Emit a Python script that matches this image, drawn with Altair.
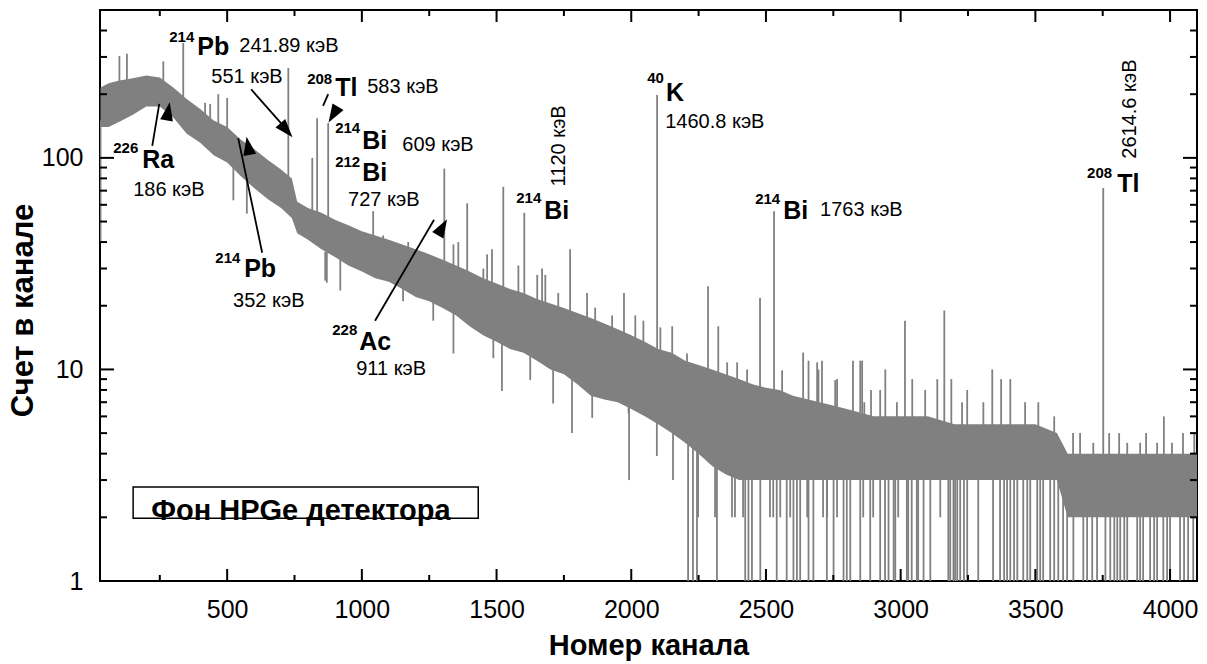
import altair as alt
import pandas as pd

# ---------------- data ----------------
# dense noisy background band (lower / upper edge of the trace)
band_ch = [30, 60, 100, 150, 200, 250, 300, 350, 400, 450,
           500, 550, 600, 650, 700, 740, 760, 800, 850, 900,
           950, 1000, 1050, 1100, 1150, 1200, 1250, 1300, 1350, 1400,
           1450, 1500, 1550, 1600, 1650, 1700, 1750, 1800, 1850, 1900,
           1950, 2000, 2050, 2100, 2150, 2200, 2250, 2300, 2350, 2400,
           2450, 2500, 2550, 2600, 2700, 2800, 2900, 3000, 3100, 3200,
           3300, 3400, 3500, 3580, 3620, 3700, 3800, 3900, 4000, 4100]
band_lo = [140, 140, 148, 160, 175, 175, 155, 130, 118, 103,
           95, 82, 72, 64, 58, 52, 44, 41, 37, 34,
           31, 29, 27, 26, 24, 22, 21, 19.5, 18, 16,
           14.5, 13.5, 12.5, 12, 11, 10, 9.5, 8.5, 7.5, 7.2,
           7, 6.5, 6, 5.5, 5, 4.5, 4, 3.5, 3.2, 3,
           3, 3, 3, 3, 3, 3, 3, 3, 3, 3,
           3, 3, 3, 3, 2, 2, 2, 2, 2, 2]
band_hi = [215, 225, 232, 238, 245, 240, 215, 190, 170, 150,
           140, 122, 110, 98, 88, 80, 62, 58, 55, 51,
           48, 45, 43, 41, 39, 37, 35, 33, 31, 29,
           27, 25.5, 24, 23, 21.5, 20.5, 19.5, 18.5, 17.5, 16.5,
           15.5, 14.5, 13.5, 12.5, 12, 11, 10.5, 10, 9.5, 9,
           8.5, 8.2, 8, 7.5, 7, 6.5, 6, 6, 6, 5.5,
           5.5, 5.5, 5.5, 5, 4, 4, 4, 4, 4, 4]

# peaks and upward noise spikes: channel, top count, count where the spike leaves the band
peak_ch = [100, 128, 263, 337, 418, 437, 467, 500, 671, 727,
           816, 834, 875, 920, 968, 1042, 1079, 1172, 1235, 1306,
           1340, 1358, 1391, 1451, 1465, 1483, 1525, 1581, 1603, 1651,
           1669, 1681, 1729, 1773, 1836, 1866, 1929, 1973, 2015, 2045,
           2096, 2108, 2152, 2207, 2285, 2323, 2356, 2393, 2430, 2478,
           2530, 2560, 2638, 2658, 2690, 2695, 2708, 2757, 2764, 2823,
           2850, 2857, 2865, 2890, 2924, 2943, 2986, 3016, 3043, 3091,
           3136, 3162, 3188, 3228, 3247, 3307, 3340, 3373, 3407, 3462,
           3511, 3570, 3640, 3666, 3715, 3752, 3774, 3811, 3841, 3889,
           3911, 3952, 3977, 4007, 4048, 4090]
peak_top = [303, 311, 286, 349, 182, 180, 200, 192, 87, 266,
            100, 154, 146, 47, 45, 56, 43, 40, 35.6, 89,
            39, 40, 61, 30, 35, 37, 73, 31, 55, 28,
            30, 28, 23, 37, 23, 19.6, 18, 23, 18, 17,
            198, 15.8, 16, 11.9, 24.7, 16, 10.8, 10.8, 10, 21.8,
            56, 9.9, 12, 11, 10.8, 10, 11, 8.9, 9, 11,
            11, 11, 7, 8, 8, 10, 7, 17, 9, 8,
            9, 19, 9, 7, 8, 7, 10, 9, 9, 7,
            7, 6, 5, 5, 4.5, 72, 5, 5, 4.5, 4.5,
            5, 4.5, 6, 4.5, 5, 5]
peak_base = [200, 200, 220, 190, 150, 140, 130, 120, 80, 70,
             50, 50, 45, 45, 40, 38, 35, 32, 30, 28,
             26, 26, 25, 22, 22, 22, 20, 19, 18, 18,
             18, 17, 16, 15, 14, 14, 13, 12, 12, 11,
             10, 10, 9, 8, 8, 7, 7, 7, 6, 6,
             6, 6, 6, 6, 5, 5, 5, 5, 5, 5,
             5, 5, 5, 5, 5, 5, 5, 5, 5, 5,
             5, 5, 5, 5, 5, 5, 5, 5, 5, 5,
             5, 4, 3, 3, 3, 3, 3, 3, 3, 3,
             3, 3, 3, 3, 3, 3]

# downward noise dips: channel, bottom count, count where the dip leaves the band
dip_ch = [30, 523, 573, 864, 870, 920, 1153, 1265, 1340, 1488,
          1520, 1625, 1710, 1780, 1855, 1990, 1992, 2095, 2155]
dip_bottom = [40, 63, 54.5, 26.3, 25.7, 23.6, 21, 17, 11.9, 11.3,
              7.9, 8.9, 6.9, 5, 5.9, 6.2, 3, 3.9, 3]
dip_base = [150, 90, 80, 36, 36, 33, 25, 21, 19, 15,
            14, 12, 11, 10, 8, 7.5, 7, 6, 5.5]

# channels whose count falls to 2
drop2_ch = [2248, 2311, 2374, 2385, 2415, 2515, 2527, 2553, 2590, 2653,
            2712, 2727, 2764, 2861, 2898, 2991, 3147]
# channels whose count falls to 1 (middle part, band above 3)
drop1_mid_ch = [2211, 2229, 2244, 2318, 2423, 2435, 2448, 2479, 2540, 2577,
                2602, 2615, 2627, 2658, 2676, 2726, 2751, 2788, 2800, 2813,
                2850, 2887, 2924, 2942, 2955, 2974, 2980, 3023, 3028, 3041,
                3060, 3065, 3085, 3110, 3177, 3184, 3196, 3202, 3210, 3221,
                3235, 3247, 3288, 3343, 3369, 3384, 3395, 3407, 3421, 3433,
                3455, 3470, 3481, 3507, 3518, 3529, 3555, 3570]
# channels whose count falls to 1 (right part, band about 2-4)
drop1_right_ch = [3585, 3603, 3618, 3641, 3678, 3692, 3711, 3729, 3760, 3778,
                  3793, 3804, 3815, 3830, 3841, 3878, 3889, 3900, 3926, 3941,
                  3952, 3975, 3989, 4000, 4037, 4052, 4067, 4086]

x_major = [500, 1000, 1500, 2000, 2500, 3000, 3500, 4000]
x_minor = [250, 750, 1250, 1750, 2250, 2750, 3250, 3750]
y_major = [1, 10, 100]
y_minor = [2, 3, 4, 5, 6, 7, 8, 9, 20, 30, 40, 50, 60, 70, 80, 90, 200, 300, 400]

# annotations (data coordinates: channel, count)
sup_labels = [("214", 285, 352), ("208", 797, 223), ("214", 901, 131), ("212", 901, 91),
              ("226", 77, 105.6), ("214", 456, 32), ("228", 890, 14.5), ("214", 1573, 61.4),
              ("40", 2059, 226), ("214", 2460, 60.7), ("208", 3692, 80.5)]
elem_labels = [("Pb", 389, 306), ("Tl", 901, 196), ("Bi", 1001, 110), ("Bi", 1001, 77.5),
               ("Ra", 185, 89.7), ("Pb", 563, 27.2), ("Ac", 990, 12.3), ("Bi", 1677, 51.6),
               ("K", 2129, 186), ("Bi", 2564, 51.6), ("Tl", 3804, 69.2)]
energy_labels = [("241.89 кэВ", 545, 316), ("551 кэВ", 441, 226), ("583 кэВ", 1020, 203),
                 ("609 кэВ", 1150, 108), ("727 кэВ", 949, 59.5), ("186 кэВ", 151, 66.2),
                 ("352 кэВ", 522, 19.8), ("911 кэВ", 979, 9.37), ("1460.8 кэВ", 2126, 139),
                 ("1763 кэВ", 2701, 53.3)]
rot_labels = [("1120 кэВ", 1732, 114), ("2614.6 кэВ", 3852, 170)]
legend_text = [("Фон HPGe детектора", 218, 1.94)]
legend_box = [(151, 1432, 2.78, 1.98)]

# arrow shafts: x0, x1, y0, y1 ; arrow heads: x, y, direction (deg)
arrow_lines = [(589, 712, 211, 140), (875, 856, 200, 176), (222, 248, 114, 180),
               (630, 541, 35.6, 124), (1049, 1268, 17, 51)]
arrow_heads = [(720, 135, 139), (894, 160, 211), (281, 166, 10),
               (578, 114, 350), (1299, 47, 30)]

# ---------------- chart ----------------
GRAY = "#808080"
FONT = "Liberation Sans"
W, H = 1097, 571

xs = alt.Scale(domain=[28, 4100], nice=False, zero=False)
ys = alt.Scale(type="log", domain=[1, 500], nice=False)

x_axis = alt.Axis(
    values=x_major, format="d", ticks=False, domain=False, grid=False,
    labelFont=FONT, labelFontSize=25, labelColor="black", labelPadding=16,
    title="Номер канала", titleFont=FONT, titleFontSize=29, titleFontWeight="bold",
    titleColor="black", titlePadding=9)
y_axis = alt.Axis(
    values=y_major, format="d", ticks=False, domain=False, grid=False,
    labelFont=FONT, labelFontSize=25, labelColor="black", labelPadding=17,
    title="Счет в канале", titleFont=FONT, titleFontSize=31, titleFontWeight="bold",
    titleColor="black", titleAngle=270, titleX=-77, titleY=300,
    titleAlign="center", titleBaseline="middle")


def X(field):
    return alt.X(field, type="quantitative", scale=xs, axis=x_axis)


def Y(field):
    return alt.Y(field, type="quantitative", scale=ys, axis=y_axis)


band = alt.Chart(pd.DataFrame({"ch": band_ch, "lo": band_lo, "hi": band_hi})).mark_area(
    color=GRAY, clip=True
).encode(x=X("ch"), y=Y("lo"), y2="hi:Q")


def rules(df, top_field):
    return alt.Chart(df).mark_rule(color=GRAY, strokeWidth=1.8, clip=True).encode(
        x=X("ch"), y=Y(top_field), y2="base:Q")


peaks = rules(pd.DataFrame({"ch": peak_ch, "top": peak_top, "base": peak_base}), "top")
dips = rules(pd.DataFrame({"ch": dip_ch, "bottom": dip_bottom, "base": dip_base}), "bottom")
drops2 = rules(pd.DataFrame({"ch": drop2_ch, "bottom": 2, "base": 5}), "bottom")
drops_mid = rules(pd.DataFrame({"ch": drop1_mid_ch, "bottom": 1, "base": 5}), "bottom")
drops_right = rules(pd.DataFrame({"ch": drop1_right_ch, "bottom": 1, "base": 3}), "bottom")


def xticks(values, length, top):
    y0, y1 = (0, length) if top else (H, H - length)
    return alt.Chart(pd.DataFrame({"ch": values})).mark_rule(color="black", strokeWidth=2).encode(
        x=X("ch"), y=alt.value(y0), y2=alt.value(y1))


def yticks(values, length, right):
    x0, x1 = (W, W - length) if right else (0, length)
    return alt.Chart(pd.DataFrame({"lo": values})).mark_rule(color="black", strokeWidth=2).encode(
        y=Y("lo"), x=alt.value(x0), x2=alt.value(x1))


ticks = [xticks(x_major, 12, False), xticks(x_minor, 6, False),
         xticks(x_major, 12, True), xticks(x_minor, 6, True),
         yticks(y_major, 14, False), yticks(y_minor, 7, False),
         yticks(y_major, 14, True), yticks(y_minor, 7, True)]


def text_layer(items, size, weight, angle=None, align="left", baseline="alphabetic"):
    df = pd.DataFrame(items, columns=["text", "ch", "lo"])
    kw = dict(font=FONT, fontSize=size, fontWeight=weight, color="black",
              align=align, baseline=baseline)
    if angle is not None:
        kw["angle"] = angle
    return alt.Chart(df).mark_text(**kw).encode(x=X("ch"), y=Y("lo"), text="text:N")


texts = [
    text_layer(sup_labels, 15, "bold"),
    text_layer(elem_labels, 25, "bold"),
    text_layer(energy_labels, 20, "normal"),
    text_layer(rot_labels, 20, "normal", angle=270, align="center", baseline="middle"),
    text_layer(legend_text, 29, "bold"),
]

box = alt.Chart(pd.DataFrame(legend_box, columns=["ch", "x1", "lo", "y1"])).mark_rect(
    fillOpacity=0, stroke="black", strokeWidth=1.5
).encode(x=X("ch"), x2="x1:Q", y=Y("lo"), y2="y1:Q")

shafts = alt.Chart(pd.DataFrame(arrow_lines, columns=["ch", "x1", "lo", "y1"])).mark_rule(
    color="black", strokeWidth=1.8
).encode(x=X("ch"), x2="x1:Q", y=Y("lo"), y2="y1:Q")

heads = alt.Chart(pd.DataFrame(arrow_heads, columns=["ch", "lo", "ang"])).mark_point(
    shape="M0,-1L0.7,1L-0.7,1Z", filled=True, color="black", opacity=1, size=340
).encode(x=X("ch"), y=Y("lo"), angle=alt.Angle("ang:Q", scale=None))

chart = alt.layer(
    band, peaks, dips, drops2, drops_mid, drops_right, *ticks, box, *texts, shafts, heads
).properties(
    width=W, height=H,
    autosize=alt.AutoSizeParams(type="none"),
    padding={"left": 100, "top": 10, "right": 10, "bottom": 83},
).configure_view(stroke="black", strokeWidth=2)

chart.save("out.html", embed_options={"renderer": "svg", "actions": False})
